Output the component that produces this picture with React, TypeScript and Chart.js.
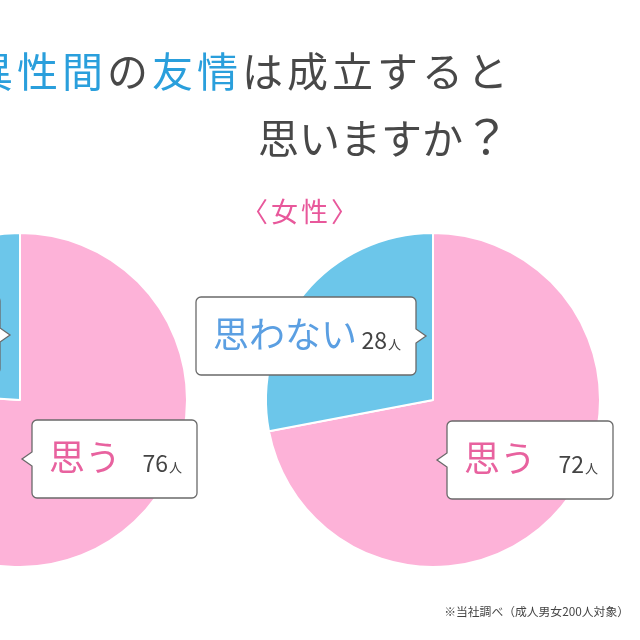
import { useEffect, useRef } from "react";
import { Chart, registerables } from "chart.js";

Chart.register(...registerables);

const categories = ["思う", "思わない"];
const maleValues = [76, 24];
const femaleValues = [72, 28];
const unit = "人";

const PINK = "#fdb2d8";
const BLUE = "#6cc6ea";
const FONT = '"Noto Sans CJK JP", "Noto Sans", sans-serif';

// callout anchor relative to the pie centre, one per category
type Callout = { dx: number; dy: number; side: "left" | "right"; w: number; color: string };

const drawCallouts = (calls: Callout[]) => ({
  id: "callouts",
  afterDraw(chart: Chart) {
    const ctx = chart.ctx;
    const arc: any = chart.getDatasetMeta(0).data[0];
    if (!arc) return;
    const cx = arc.x;
    const cy = arc.y;
    const values = chart.data.datasets[0].data as number[];
    const labels = chart.data.labels as string[];
    calls.forEach((c, i) => {
      const tx = cx + c.dx;
      const ty = cy + c.dy;
      const h = 78;
      const r = 5;
      const top = ty - h / 2;
      const left = c.side === "left" ? tx + 10 : tx - 10 - c.w;
      const right = left + c.w;
      const bottom = top + h;
      ctx.save();
      ctx.beginPath();
      ctx.moveTo(left + r, top);
      ctx.lineTo(right - r, top);
      ctx.arcTo(right, top, right, top + r, r);
      if (c.side === "right") {
        ctx.lineTo(right, ty - 7);
        ctx.lineTo(tx, ty);
        ctx.lineTo(right, ty + 7);
      }
      ctx.lineTo(right, bottom - r);
      ctx.arcTo(right, bottom, right - r, bottom, r);
      ctx.lineTo(left + r, bottom);
      ctx.arcTo(left, bottom, left, bottom - r, r);
      if (c.side === "left") {
        ctx.lineTo(left, ty + 7);
        ctx.lineTo(tx, ty);
        ctx.lineTo(left, ty - 7);
      }
      ctx.lineTo(left, top + r);
      ctx.arcTo(left, top, left + r, top, r);
      ctx.closePath();
      ctx.fillStyle = "#ffffff";
      ctx.fill();
      ctx.strokeStyle = "#6a6a6a";
      ctx.lineWidth = 1.3;
      ctx.stroke();

      ctx.textBaseline = "alphabetic";
      ctx.textAlign = "left";
      ctx.fillStyle = c.color;
      ctx.font = `36px ${FONT}`;
      ctx.fillText(labels[i], left + 17, ty + 12);

      ctx.font = `13px ${FONT}`;
      const uw = ctx.measureText(unit).width;
      ctx.fillStyle = "#444444";
      ctx.fillText(unit, right - 15 - uw, ty + 13);
      ctx.font = `23px ${FONT}`;
      ctx.textAlign = "right";
      ctx.fillText(String(values[i]), right - 16 - uw, ty + 13);
      ctx.restore();
    });
  },
});

interface PieProps {
  values: number[];
  offsetX: number;
  calls: Callout[];
}

const Pie = ({ values, offsetX, calls }: PieProps) => {
  const canvasRef = useRef<HTMLCanvasElement | null>(null);

  useEffect(() => {
    if (!canvasRef.current) return;
    const chart = new Chart(canvasRef.current, {
      type: "pie",
      data: {
        labels: categories,
        datasets: [
          {
            data: values,
            backgroundColor: [PINK, BLUE],
            borderColor: "#ffffff",
            borderWidth: 2,
          },
        ],
      },
      options: {
        responsive: false,
        animation: false,
        layout: { padding: { left: 265, right: 39, top: 232, bottom: 72 } },
        plugins: { legend: { display: false }, tooltip: { enabled: false } },
      },
      plugins: [drawCallouts(calls)],
    });
    return () => chart.destroy();
  }, [values, calls]);

  return (
    <canvas
      ref={canvasRef}
      width={640}
      height={640}
      style={{ position: "absolute", left: offsetX, top: 0, width: 640, height: 640 }}
    />
  );
};

const maleCalls: Callout[] = [
  { dx: 2, dy: 59, side: "left", w: 165, color: "#e8629f" },
  { dx: -10, dy: -65, side: "right", w: 220, color: "#5b9fe2" },
];
const femaleCalls: Callout[] = [
  { dx: 4, dy: 60, side: "left", w: 166, color: "#e8629f" },
  { dx: -7, dy: -64, side: "right", w: 220, color: "#5b9fe2" },
];

export default function App() {
  const blue = { color: "#2a9fdc" };
  return (
    <div
      style={{
        position: "absolute",
        left: 0,
        top: 0,
        width: 640,
        height: 640,
        overflow: "hidden",
        background: "#ffffff",
        fontFamily: FONT,
      }}
    >
      <Pie values={maleValues} offsetX={-413} calls={maleCalls} />
      <Pie values={femaleValues} offsetX={0} calls={femaleCalls} />
      <div
        style={{
          position: "absolute",
          right: 128,
          top: 37,
          fontSize: 41,
          lineHeight: "64px",
          letterSpacing: 4,
          color: "#484848",
          whiteSpace: "nowrap",
        }}
      >
        <span style={blue}>異性間</span>の<span style={blue}>友情</span>は成立すると
      </div>
      <div
        style={{
          position: "absolute",
          left: 258,
          top: 102,
          fontSize: 41,
          lineHeight: "64px",
          color: "#484848",
          whiteSpace: "nowrap",
        }}
      >
        思いますか<span style={{ fontSize: 47 }}>？</span>
      </div>
      <div
        style={{
          position: "absolute",
          left: 241,
          top: 193,
          fontSize: 27,
          lineHeight: "36px",
          letterSpacing: 3,
          color: "#e8589b",
          whiteSpace: "nowrap",
        }}
      >
        〈女性〉
      </div>
      <div
        style={{
          position: "absolute",
          right: 11,
          top: 603,
          fontSize: 11.8,
          lineHeight: "16px",
          color: "#444444",
          whiteSpace: "nowrap",
        }}
      >
        ※当社調べ（成人男女200人対象）
      </div>
    </div>
  );
}
